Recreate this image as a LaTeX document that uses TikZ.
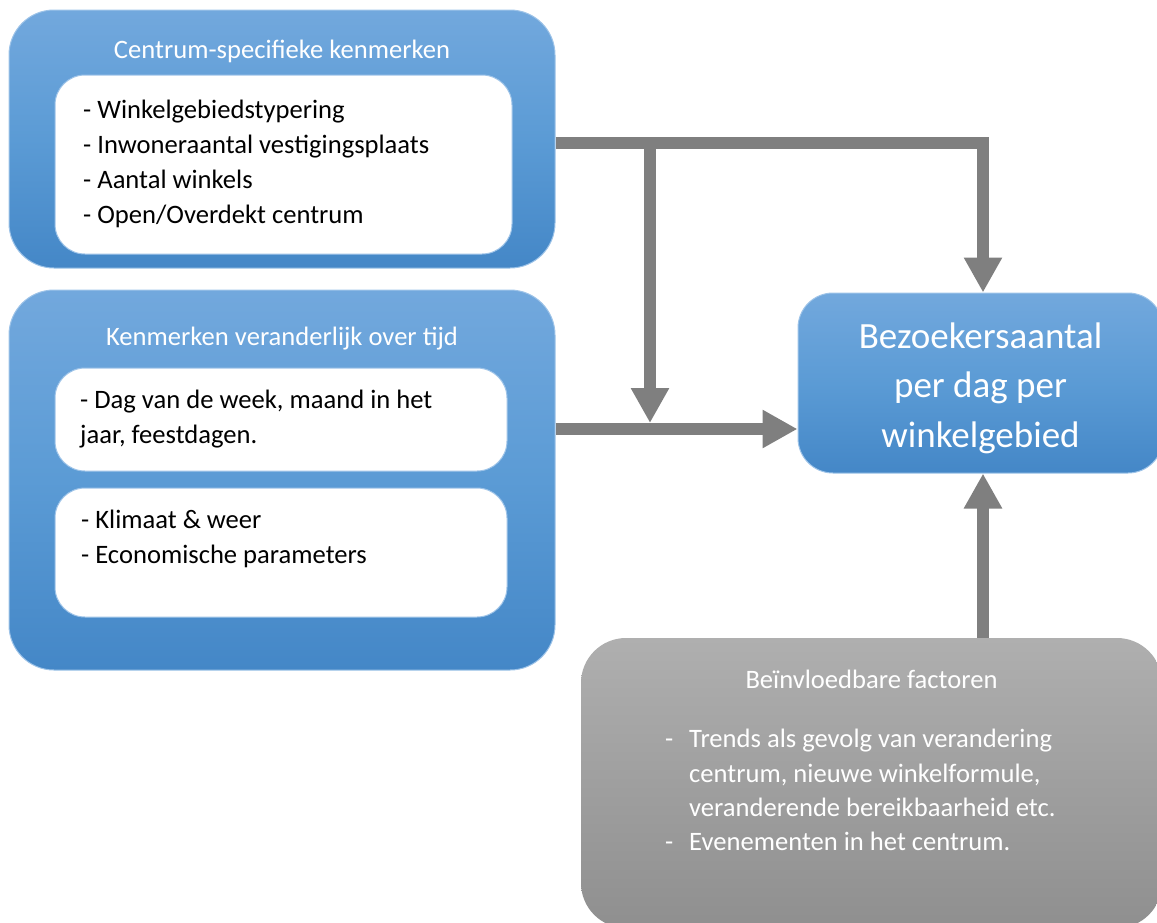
\documentclass[tikz,border=0pt]{standalone}
\usepackage{fontspec}
\setmainfont{Carlito}
\usetikzlibrary{arrows.meta}
\definecolor{bluetop}{HTML}{72A8DD}
\definecolor{bluemid}{HTML}{5B9BD5}
\definecolor{bluebot}{HTML}{4487C7}
\definecolor{graytop}{HTML}{AFAFAF}
\definecolor{graybot}{HTML}{8F8F8F}
\definecolor{connc}{HTML}{7F7F7F}
\definecolor{edgeblue}{HTML}{9DC3E8}
\tikzset{
  outerbox/.style={rectangle, rounded corners=45pt, draw=edgeblue, line width=1pt,
    top color=bluetop, bottom color=bluebot, middle color=bluemid, inner sep=0pt},
  whitebox/.style={rectangle, rounded corners=30pt, draw=edgeblue, line width=1pt,
    fill=white, inner sep=0pt},
  targetbox/.style={rectangle, rounded corners=35pt, draw=edgeblue, line width=1pt,
    top color=bluetop, bottom color=bluebot, middle color=bluemid, inner sep=0pt},
  graybox/.style={rectangle, rounded corners=45pt, draw=none,
    top color=graytop, bottom color=graybot, inner sep=0pt},
  bodytxt/.style={font=\fontsize{26.6}{32}\selectfont, text=black, inner sep=0pt, anchor=base west},
  graytxt/.style={font=\fontsize{26.6}{32}\selectfont, text=white, inner sep=0pt, anchor=base west},
  titletxt/.style={font=\fontsize{26.6}{32}\selectfont, text=white, inner sep=0pt, anchor=base},
  bigtxt/.style={font=\fontsize{37}{44}\selectfont, text=white, inner sep=0pt, anchor=base},
  conline/.style={draw=connc, line width=12pt},
  conarrow/.style={conline, -{Triangle[width=36pt,length=35pt]}},
}
\begin{document}
\begin{tikzpicture}[x=1pt,y=-1pt]
\useasboundingbox (0,0) rectangle (1157,922);
% boxes
\node[outerbox, minimum width=546pt, minimum height=258pt] (c1) at (282,139) {};
\node[whitebox, minimum width=457pt, minimum height=179pt] (w1) at (283.5,164.5) {};
\node[outerbox, minimum width=546pt, minimum height=380pt] (c2) at (282,480) {};
\node[whitebox, minimum width=452pt, minimum height=103pt] (w2a) at (281,419.5) {};
\node[whitebox, minimum width=452pt, minimum height=129pt] (w2b) at (281,552.5) {};
\node[targetbox, minimum width=365pt, minimum height=180pt] (t) at (980.5,383) {};
\node[graybox, minimum width=581pt, minimum height=290pt] (g) at (871.5,783) {};
% texts box 1
\node[titletxt] (c1title) at (282,58) {Centrum-specifieke kenmerken};
\node[bodytxt] (l11) at (83,118) {- Winkelgebiedstypering};
\node[bodytxt] (l12) at (83,153) {- Inwoneraantal vestigingsplaats};
\node[bodytxt] (l13) at (83,188) {- Aantal winkels};
\node[bodytxt] (l14) at (83,223) {- Open/Overdekt centrum};
% texts box 2
\node[titletxt] (c2title) at (282,345) {Kenmerken veranderlijk over tijd};
\node[bodytxt] (l21) at (80,408) {- Dag van de week, maand in het};
\node[bodytxt] (l22) at (80,443) {jaar, feestdagen.};
\node[bodytxt] (l23) at (81,528) {- Klimaat \& weer};
\node[bodytxt] (l24) at (81,563) {- Economische parameters};
% target text
\node[bigtxt] (tt1) at (980.5,348) {Bezoekersaantal};
\node[bigtxt] (tt2) at (980.5,397.5) {per dag per};
\node[bigtxt] (tt3) at (980.5,447) {winkelgebied};
% gray box text
\node[titletxt] (gtitle) at (871.5,688) {Beïnvloedbare factoren};
\node[graytxt] (gd1) at (665,747) {-};
\node[graytxt] (g1) at (689,747) {Trends als gevolg van verandering};
\node[graytxt] (g2) at (689,782) {centrum, nieuwe winkelformule,};
\node[graytxt] (g3) at (689,816) {veranderende bereikbaarheid etc.};
\node[graytxt] (gd2) at (665,850) {-};
\node[graytxt] (g4) at (689,850) {Evenementen in het centrum.};
% connectors
\coordinate (j1) at (650,143);
\coordinate (j2) at (983,143);
\coordinate (j3) at (650,423);
\coordinate (m) at (650,429);
\draw[conarrow] (c1.east |- j1) -- (j2) -- (t.north -| j2);
\draw[conarrow] (j1) -- (j3);
\draw[conarrow] (c2.east |- m) -- (t.west |- m);
\draw[conarrow] (g.north -| j2) -- (t.south -| j2);
\end{tikzpicture}
\end{document}
